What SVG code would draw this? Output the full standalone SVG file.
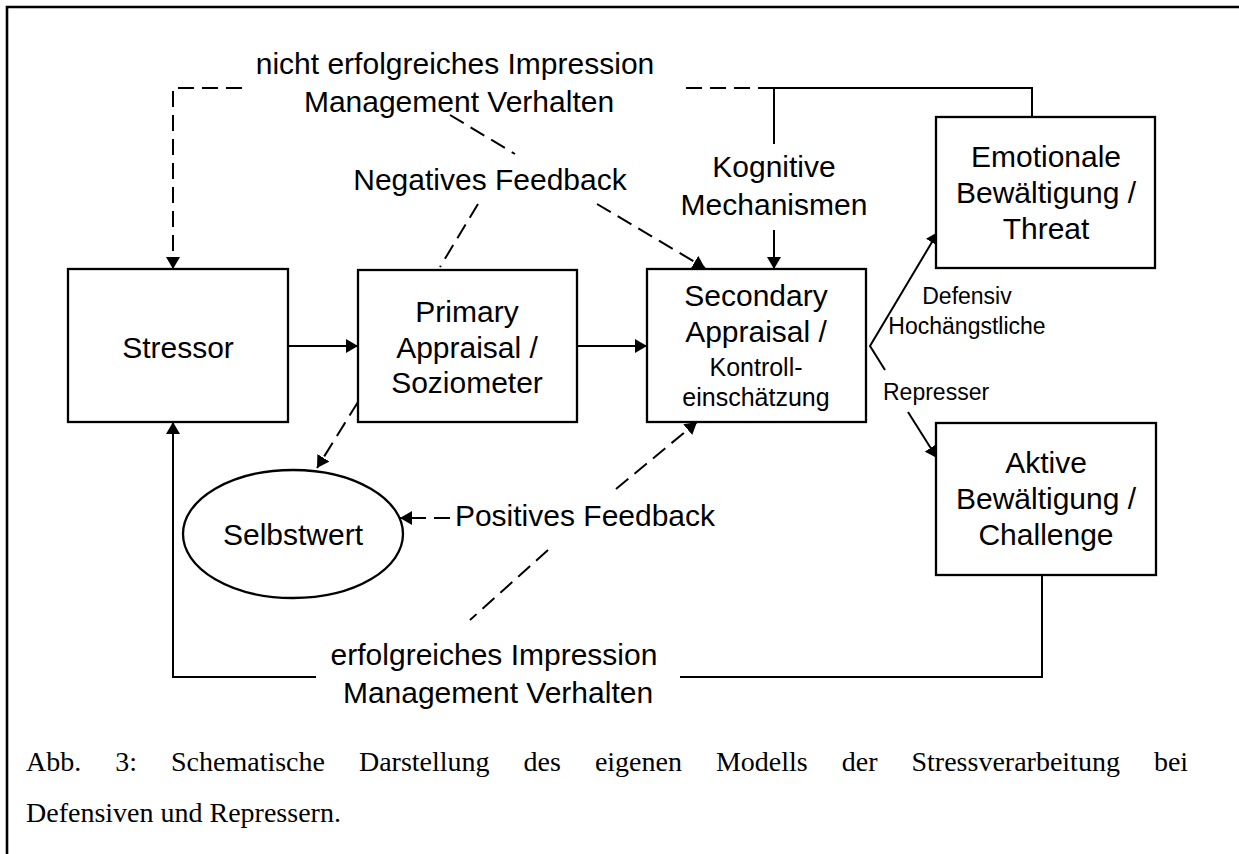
<svg xmlns="http://www.w3.org/2000/svg" width="1239" height="854" viewBox="0 0 1239 854">
<style>
.box{fill:#fff;stroke:#000;stroke-width:2.3}
.ln{fill:none;stroke:#000;stroke-width:2}
.dash{fill:none;stroke:#000;stroke-width:2;stroke-dasharray:16 8}
.t{font-family:"Liberation Sans",Arial,sans-serif;font-size:30px;fill:#000;text-anchor:middle}
.s{font-family:"Liberation Sans",Arial,sans-serif;font-size:23px;fill:#000}
.m{font-size:25px}
.cap{font-family:"Liberation Serif","Times New Roman",serif;font-size:28px;fill:#000}
</style>
<defs>
<marker id="ah" markerUnits="userSpaceOnUse" markerWidth="12" markerHeight="14" viewBox="0 0 12 14" refX="12" refY="7" orient="auto">
<path d="M0,0 L12,7 L0,14 z" fill="#000"/>
</marker>
</defs>
<rect width="1239" height="854" fill="#fff"/>
<g id="frame">
<path class="ln" d="M7,854 V7 H1239" style="stroke-width:2.6"/>
</g>
<g id="connectors">
<path class="ln" d="M288,346 H358" marker-end="url(#ah)"/>
<path class="ln" d="M577,346 H647" marker-end="url(#ah)"/>
<path class="dash" d="M242,88 H173 V269" marker-end="url(#ah)"/>
<path class="ln" d="M1032,117 V88 H774"/>
<path class="dash" d="M774,88 H678"/>
<path class="ln" d="M774,88 V144"/>
<path class="ln" d="M774,230 V269" marker-end="url(#ah)"/>
<path class="dash" d="M450,115 L515,154"/>
<path class="dash" d="M597,204 L705,268" marker-end="url(#ah)"/>
<path class="dash" d="M478,204 L440,267"/>
<path class="dash" d="M358,402 L317,468" marker-end="url(#ah)"/>
<path class="dash" d="M450,518 H400" marker-end="url(#ah)"/>
<path class="dash" d="M616,489 L697,422" marker-end="url(#ah)"/>
<path class="dash" d="M548,550 L470,620"/>
<path class="ln" d="M1042,575 V677 H680"/>
<path class="ln" d="M316,677 H173 V422" marker-end="url(#ah)"/>
<path class="ln" d="M885,370 L870,346 L938,232" marker-end="url(#ah)"/>
<path class="ln" d="M908,412 L937,458" marker-end="url(#ah)"/>
</g>
<g id="stressor">
<rect class="box" x="68" y="269" width="220" height="153"/>
<text class="t" x="178" y="358">Stressor</text>
</g>
<g id="primary">
<rect class="box" x="358" y="270" width="219" height="152"/>
<text class="t" x="467" y="322">Primary</text>
<text class="t" x="467" y="358">Appraisal /</text>
<text class="t" x="467" y="393">Soziometer</text>
</g>
<g id="secondary">
<rect class="box" x="647" y="269" width="219" height="153"/>
<text class="t" x="756" y="306">Secondary</text>
<text class="t" x="756" y="342">Appraisal /</text>
<text class="t m" x="756" y="376">Kontroll-</text>
<text class="t m" x="756" y="406">einschätzung</text>
</g>
<g id="emotionale">
<rect class="box" x="936" y="117" width="219" height="151"/>
<text class="t" x="1046" y="167">Emotionale</text>
<text class="t" x="1046" y="203">Bewältigung /</text>
<text class="t" x="1046" y="239">Threat</text>
</g>
<g id="aktive">
<rect class="box" x="936" y="423" width="220" height="152"/>
<text class="t" x="1046" y="473">Aktive</text>
<text class="t" x="1046" y="509">Bewältigung /</text>
<text class="t" x="1046" y="545">Challenge</text>
</g>
<g id="selbstwert">
<ellipse class="box" cx="293" cy="534" rx="110" ry="64"/>
<text class="t" x="293" y="545">Selbstwert</text>
</g>
<g id="labels">
<text class="t" x="455" y="74">nicht erfolgreiches Impression</text>
<text class="t" x="459" y="112">Management Verhalten</text>
<text class="t" x="490" y="190">Negatives Feedback</text>
<text class="t" x="774" y="177">Kognitive</text>
<text class="t" x="774" y="215">Mechanismen</text>
<text class="t" x="585" y="526">Positives Feedback</text>
<text class="t" x="494" y="665">erfolgreiches Impression</text>
<text class="t" x="498" y="703">Management Verhalten</text>
<text class="s" x="967" y="304" text-anchor="middle">Defensiv</text>
<text class="s" x="967" y="334" text-anchor="middle">Hochängstliche</text>
<text class="s" x="883" y="400">Represser</text>
</g>
<g id="caption">
<text class="cap" x="26" y="771" word-spacing="27">Abb. 3: Schematische Darstellung des eigenen Modells der Stressverarbeitung bei</text>
<text class="cap" x="26" y="822">Defensiven und Repressern.</text>
</g>
</svg>
